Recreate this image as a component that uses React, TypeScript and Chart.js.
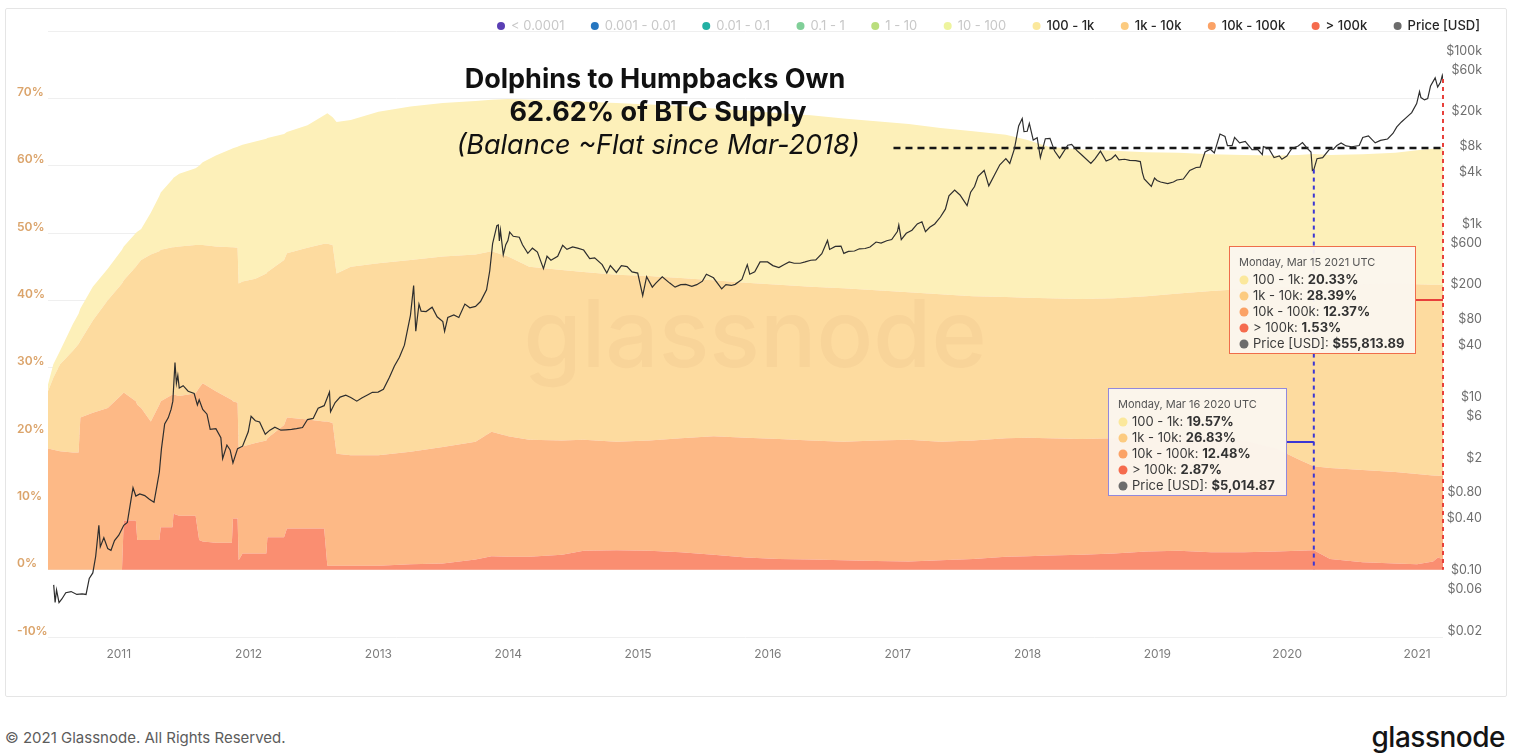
import { useEffect, useRef } from 'react';
import { Chart, registerables } from 'chart.js';

Chart.register(...registerables);

const FONT = 'Inter, "Noto Sans", "DejaVu Sans", sans-serif';

// Share of BTC supply (%) held by each balance cohort, sampled at these dates
const cohortDates = [
  '2010-06-16', '2010-07-01', '2010-07-20', '2010-08-25', '2010-09-10', '2010-09-15', '2010-10-20', '2010-12-01',
  '2011-01-10', '2011-01-15', '2011-02-18', '2011-02-22', '2011-03-05', '2011-04-01', '2011-04-25', '2011-04-29',
  '2011-06-01', '2011-06-04', '2011-06-20', '2011-08-05', '2011-08-15', '2011-08-25', '2011-10-01', '2011-11-15',
  '2011-11-18', '2011-12-01', '2011-12-04', '2011-12-15', '2012-01-20', '2012-02-20', '2012-02-23', '2012-04-10',
  '2012-04-18', '2012-06-15', '2012-08-01', '2012-08-10', '2012-08-25', '2012-09-05', '2012-10-15', '2013-01-01',
  '2013-04-01', '2013-07-01', '2013-10-01', '2013-11-15', '2014-01-01', '2014-03-01', '2014-06-01', '2014-08-01',
  '2014-11-01', '2015-02-01', '2015-05-01', '2015-08-01', '2015-11-01', '2016-02-01', '2016-05-01', '2016-08-01',
  '2016-11-01', '2017-02-01', '2017-05-01', '2017-08-01', '2017-11-01', '2018-01-01', '2018-03-01', '2018-06-01',
  '2018-09-01', '2018-12-01', '2019-03-01', '2019-06-01', '2019-09-01', '2019-12-01', '2020-02-01', '2020-03-16',
  '2020-05-01', '2020-08-01', '2020-11-01', '2021-01-01', '2021-02-15', '2021-03-01', '2021-03-15',
];

const shareOver100k = [
  0, 0, 0, 0, 0, 0, 0, 0, 0, 7.3, 7.3, 4.4, 4.4, 4.4, 4.4, 6.3, 6.3, 8.3, 8.0, 8.0,
  4.4, 4.2, 4.0, 4.0, 7.6, 7.6, 1.4, 2.4, 2.4, 2.4, 4.8, 4.8, 6.1, 6.1, 6.1, 0.6, 0.6, 0.6, 0.6, 0.6,
  0.8, 0.9, 1.5, 2.0, 1.9, 1.9, 2.2, 2.8, 2.9, 2.8, 2.6, 2.2, 1.8, 1.6, 1.5, 1.4, 1.3, 1.2, 1.4, 1.6,
  1.9, 2.0, 2.1, 2.2, 2.4, 2.7, 2.8, 2.6, 2.6, 2.7, 2.8, 2.87, 1.6, 1.1, 0.9, 0.8, 1.2, 1.8, 1.53,
];

const share10kTo100k = [
  18.0, 17.8, 17.6, 17.4, 17.4, 22.6, 23.3, 24.0, 26.0, 19.0, 17.7, 20.1, 19.6, 17.6, 20.1, 18.7, 19.7, 17.7, 17.8, 18.2,
  22.6, 23.5, 22.5, 21.2, 17.4, 17.2, 16.6, 15.9, 16.4, 16.8, 14.7, 16.7, 16.5, 16.2, 15.9, 21.4, 21.2, 16.6, 16.4, 16.4,
  16.7, 17.3, 17.5, 18.5, 17.9, 17.4, 17.0, 16.5, 16.1, 16.4, 16.9, 17.6, 17.8, 17.8, 17.7, 17.6, 17.9, 18.1, 17.6, 17.6,
  17.6, 17.6, 17.4, 17.2, 17.1, 17.0, 17.0, 17.0, 16.6, 15.3, 13.6, 12.48, 13.5, 13.7, 13.6, 13.4, 12.8, 12.15, 12.37,
];

const share1kTo10k = [
  8.5, 10.7, 12.9, 15.1, 16.1, 11.4, 13.7, 16.0, 16.5, 16.7, 20.0, 20.8, 22.0, 24.8, 22.8, 22.5, 21.9, 21.9, 22.2, 22.0,
  21.2, 20.5, 21.5, 22.7, 22.9, 23.0, 24.5, 24.5, 24.4, 24.8, 24.7, 24.5, 24.4, 25.5, 26.4, 26.4, 26.4, 26.8, 28.0, 28.5,
  28.5, 28.3, 27.8, 26.8, 26.7, 25.7, 25.3, 24.9, 24.8, 24.4, 23.8, 23.2, 23.0, 22.9, 22.8, 22.8, 22.3, 21.9, 21.9, 21.4,
  21.0, 20.8, 20.8, 20.8, 20.8, 20.9, 21.2, 21.8, 22.5, 23.9, 25.6, 26.83, 27.2, 27.6, 28.0, 28.2, 28.3, 28.35, 28.39,
];

const share100To1k = [
  1.0, 2.0, 2.0, 4.0, 4.5, 4.8, 5.0, 4.7, 5.0, 5.0, 5.0, 4.9, 4.6, 6.2, 8.2, 8.5, 10.1, 10.3, 10.8, 11.4,
  11.8, 12.3, 13.5, 14.6, 14.7, 15.0, 20.4, 20.3, 20.4, 20.0, 19.9, 18.7, 18.0, 18.2, 19.1, 19.4, 19.0, 22.5, 21.8, 22.5,
  22.8, 22.8, 22.8, 22.5, 23.4, 24.8, 25.2, 25.3, 25.5, 25.5, 25.6, 25.5, 25.6, 25.5, 25.5, 25.2, 25.1, 25.0, 24.7, 24.5,
  24.1, 23.4, 22.5, 22.2, 21.9, 21.4, 20.9, 20.3, 19.9, 19.6, 19.6, 19.57, 19.3, 19.3, 19.4, 19.9, 20.2, 20.3, 20.33,
];

// BTC price in USD
const priceHistory: [string, number][] = [
  ['2010-07-02', 0.08], ['2010-07-06', 0.05], ['2010-07-10', 0.07], ['2010-07-17', 0.05], ['2010-07-25', 0.055],
  ['2010-08-05', 0.065], ['2010-08-20', 0.067], ['2010-09-05', 0.062], ['2010-09-20', 0.063], ['2010-10-01', 0.062],
  ['2010-10-10', 0.095], ['2010-10-20', 0.11], ['2010-10-28', 0.17], ['2010-11-06', 0.39], ['2010-11-10', 0.22],
  ['2010-11-20', 0.28], ['2010-12-01', 0.21], ['2010-12-10', 0.2], ['2010-12-20', 0.26], ['2011-01-01', 0.3],
  ['2011-01-15', 0.39], ['2011-01-25', 0.42], ['2011-02-05', 0.8], ['2011-02-10', 1.06], ['2011-02-18', 0.85],
  ['2011-03-01', 0.9], ['2011-03-15', 0.86], ['2011-03-28', 0.78], ['2011-04-10', 0.72], ['2011-04-18', 1.1],
  ['2011-04-25', 1.6], ['2011-05-01', 3.0], ['2011-05-10', 5.8], ['2011-05-20', 6.8], ['2011-05-28', 8.5],
  ['2011-06-02', 10.6], ['2011-06-08', 29.6], ['2011-06-12', 17], ['2011-06-16', 21], ['2011-06-20', 15],
  ['2011-07-01', 16], ['2011-07-15', 13.8], ['2011-08-01', 13], ['2011-08-10', 9.6], ['2011-08-15', 11],
  ['2011-08-25', 8.5], ['2011-09-06', 7.5], ['2011-09-15', 5], ['2011-10-01', 5.1], ['2011-10-15', 4],
  ['2011-10-20', 2.3], ['2011-11-01', 3.3], ['2011-11-10', 2.9], ['2011-11-18', 2.05], ['2011-12-01', 3.0],
  ['2011-12-15', 3.2], ['2011-12-31', 4.7], ['2012-01-08', 7.1], ['2012-01-20', 6.3], ['2012-02-01', 6.1],
  ['2012-02-17', 4.4], ['2012-03-01', 4.9], ['2012-03-15', 5.3], ['2012-04-01', 4.9], ['2012-04-15', 4.95],
  ['2012-05-01', 5.0], ['2012-05-15', 5.1], ['2012-06-01', 5.25], ['2012-06-15', 6.5], ['2012-07-01', 6.7],
  ['2012-07-15', 8.8], ['2012-08-01', 9.4], ['2012-08-16', 13.5], ['2012-08-19', 8.0], ['2012-09-01', 10.2],
  ['2012-09-15', 11.8], ['2012-10-01', 12.4], ['2012-10-15', 11.7], ['2012-11-01', 10.6], ['2012-11-15', 11.5],
  ['2012-12-01', 12.5], ['2012-12-15', 13.4], ['2012-12-31', 13.5], ['2013-01-15', 14.5], ['2013-02-01', 20],
  ['2013-02-15', 27], ['2013-03-01', 34], ['2013-03-15', 47], ['2013-04-01', 104], ['2013-04-10', 230],
  ['2013-04-16', 68], ['2013-04-25', 140], ['2013-05-01', 116], ['2013-05-15', 115], ['2013-06-01', 129],
  ['2013-06-15', 100], ['2013-07-01', 88], ['2013-07-06', 68], ['2013-07-15', 98], ['2013-08-01', 105],
  ['2013-08-15', 98], ['2013-09-01', 140], ['2013-09-15', 127], ['2013-10-01', 132], ['2013-10-15', 150],
  ['2013-11-01', 205], ['2013-11-10', 340], ['2013-11-18', 700], ['2013-11-30', 1130], ['2013-12-04', 1150],
  ['2013-12-07', 750], ['2013-12-10', 1000], ['2013-12-18', 520], ['2013-12-25', 680], ['2013-12-31', 760],
  ['2014-01-05', 950], ['2014-01-15', 850], ['2014-02-01', 830], ['2014-02-10', 680], ['2014-02-25', 540],
  ['2014-03-10', 620], ['2014-03-24', 560], ['2014-04-10', 360], ['2014-04-20', 500], ['2014-05-01', 450],
  ['2014-05-20', 500], ['2014-06-03', 670], ['2014-06-15', 600], ['2014-07-01', 640], ['2014-07-15', 620],
  ['2014-08-01', 590], ['2014-08-18', 470], ['2014-09-01', 480], ['2014-09-22', 400], ['2014-10-05', 320],
  ['2014-10-15', 390], ['2014-11-01', 325], ['2014-11-15', 390], ['2014-12-01', 380], ['2014-12-15', 330],
  ['2014-12-31', 320], ['2015-01-14', 175], ['2015-01-25', 290], ['2015-02-10', 220], ['2015-02-20', 245],
  ['2015-03-10', 290], ['2015-03-31', 245], ['2015-04-15', 220], ['2015-05-01', 235], ['2015-05-15', 237],
  ['2015-06-01', 225], ['2015-06-15', 235], ['2015-07-01', 258], ['2015-07-12', 310], ['2015-08-01', 282],
  ['2015-08-24', 210], ['2015-09-05', 235], ['2015-09-20', 230], ['2015-10-01', 237], ['2015-10-20', 270],
  ['2015-11-04', 400], ['2015-11-11', 310], ['2015-11-25', 330], ['2015-12-10', 430], ['2015-12-31', 430],
  ['2016-01-15', 390], ['2016-02-01', 370], ['2016-02-15', 400], ['2016-03-01', 430], ['2016-03-15', 415],
  ['2016-04-01', 415], ['2016-04-15', 430], ['2016-05-01', 450], ['2016-05-15', 455], ['2016-06-01', 535],
  ['2016-06-17', 760], ['2016-06-23', 600], ['2016-07-09', 650], ['2016-07-25', 655], ['2016-08-02', 540],
  ['2016-08-15', 570], ['2016-09-01', 575], ['2016-09-15', 610], ['2016-10-01', 615], ['2016-10-15', 640],
  ['2016-11-01', 730], ['2016-11-15', 710], ['2016-12-01', 755], ['2016-12-15', 780], ['2016-12-31', 965],
  ['2017-01-04', 1150], ['2017-01-11', 780], ['2017-01-25', 920], ['2017-02-10', 1000], ['2017-02-25', 1180],
  ['2017-03-10', 1250], ['2017-03-20', 960], ['2017-04-01', 1080], ['2017-04-15', 1180], ['2017-05-01', 1420],
  ['2017-05-15', 1750], ['2017-05-25', 2500], ['2017-06-10', 2900], ['2017-06-25', 2550], ['2017-07-15', 1920],
  ['2017-07-25', 2750], ['2017-08-05', 3200], ['2017-08-15', 4200], ['2017-09-01', 4900], ['2017-09-14', 3250],
  ['2017-09-30', 4350], ['2017-10-15', 5700], ['2017-11-01', 6700], ['2017-11-12', 5900], ['2017-11-25', 8700],
  ['2017-12-07', 16000], ['2017-12-17', 19500], ['2017-12-22', 13800], ['2017-12-31', 13900], ['2018-01-06', 17100],
  ['2018-01-17', 11000], ['2018-01-28', 11700], ['2018-02-06', 6900], ['2018-02-20', 11400], ['2018-03-05', 11500],
  ['2018-03-18', 8200], ['2018-04-01', 6800], ['2018-04-24', 9600], ['2018-05-05', 9800], ['2018-05-20', 8300],
  ['2018-06-01', 7500], ['2018-06-28', 5900], ['2018-07-10', 6700], ['2018-07-25', 8200], ['2018-08-10', 6300],
  ['2018-08-25', 6700], ['2018-09-05', 7400], ['2018-09-15', 6500], ['2018-10-01', 6600], ['2018-10-15', 6400],
  ['2018-11-01', 6350], ['2018-11-14', 6200], ['2018-11-20', 4600], ['2018-11-25', 3900], ['2018-12-15', 3200],
  ['2018-12-24', 4000], ['2018-12-31', 3750], ['2019-01-10', 3600], ['2019-01-30', 3450], ['2019-02-15', 3600],
  ['2019-02-25', 3800], ['2019-03-15', 3900], ['2019-04-02', 4900], ['2019-04-20', 5300], ['2019-05-01', 5350],
  ['2019-05-15', 8000], ['2019-05-30', 8600], ['2019-06-10', 7800], ['2019-06-26', 12900], ['2019-07-10', 12100],
  ['2019-07-17', 9500], ['2019-07-30', 9500], ['2019-08-06', 11800], ['2019-08-20', 10200], ['2019-09-05', 10600],
  ['2019-09-24', 8500], ['2019-10-10', 8600], ['2019-10-23', 7450], ['2019-10-26', 9250], ['2019-11-10', 8800],
  ['2019-11-25', 6900], ['2019-12-10', 7200], ['2019-12-17', 6600], ['2019-12-31', 7200], ['2020-01-14', 8800],
  ['2020-02-01', 9400], ['2020-02-13', 10300], ['2020-02-28', 8700], ['2020-03-08', 8000], ['2020-03-12', 4900],
  ['2020-03-16', 5014.87], ['2020-03-25', 6700], ['2020-04-10', 6900], ['2020-04-30', 8700], ['2020-05-10', 8600],
  ['2020-05-20', 9500], ['2020-06-01', 10200], ['2020-06-15', 9400], ['2020-07-01', 9200], ['2020-07-22', 9500],
  ['2020-08-01', 11800], ['2020-08-17', 12300], ['2020-09-05', 10200], ['2020-09-20', 10900], ['2020-10-10', 11300],
  ['2020-10-25', 13100], ['2020-11-05', 15600], ['2020-11-18', 17800], ['2020-11-30', 19700], ['2020-12-17', 22800],
  ['2020-12-31', 29000], ['2021-01-08', 40000], ['2021-01-12', 34000], ['2021-01-22', 32000], ['2021-01-31', 33100],
  ['2021-02-08', 46500], ['2021-02-21', 57500], ['2021-02-28', 45000], ['2021-03-08', 51000], ['2021-03-13', 61200],
  ['2021-03-15', 55813.89],
];

const yearTicks = [2011, 2012, 2013, 2014, 2015, 2016, 2017, 2018, 2019, 2020, 2021];
const priceTickValues = [100000, 60000, 20000, 8000, 4000, 1000, 600, 200, 80, 40, 10, 6, 2, 0.8, 0.4, 0.1, 0.06, 0.02];
const priceTickLabels = ['$100k', '$60k', '$20k', '$8k', '$4k', '$1k', '$600', '$200', '$80', '$40', '$10', '$6', '$2', '$0.80', '$0.40', '$0.10', '$0.06', '$0.02'];

const legendNames = ['< 0.0001', '0.001 - 0.01', '0.01 - 0.1', '0.1 - 1', '1 - 10', '10 - 100', '100 - 1k', '1k - 10k', '10k - 100k', '> 100k', 'Price [USD]'];
const legendDots = ['#5a3fb4', '#2676c0', '#22b0a3', '#80cf98', '#bade7d', '#eef49e', '#fbe89c', '#fccb80', '#fba266', '#f56b4d', '#6c6c6c'];
const legendActive = [false, false, false, false, false, false, true, true, true, true, true];

const areaFills = {
  over100k: '#fa8e71',
  k10to100k: '#fdb986',
  k1to10k: '#fddb9f',
  h100to1k: '#fdf0b9',
};

const headline = ['Dolphins to Humpbacks Own', '62.62% of BTC Supply', '(Balance ~Flat since Mar-2018)'];
const flatSince = '2016-12-20';

const crosshairs = [
  { date: '2020-03-16', heading: 'Monday, Mar 16 2020 UTC', line: '#3b36d4', frame: '#9288dc', anchorPct: 19 },
  { date: '2021-03-15', heading: 'Monday, Mar 15 2021 UTC', line: '#e8403b', frame: '#ef6d4b', anchorPct: 40 },
];

const PRICE_INDEX = 5;

const toYear = (d: string) => {
  const [y, m, day] = d.split('-').map(Number);
  const t0 = Date.UTC(y, 0, 1);
  const t1 = Date.UTC(y + 1, 0, 1);
  return y + (Date.UTC(y, m - 1, day) - t0) / (t1 - t0);
};

const series = (values: number[]) => cohortDates.map((d, i) => ({ x: toYear(d), y: values[i] }));

const lastIdx = cohortDates.length - 1;
const latestTotal = shareOver100k[lastIdx] + share10kTo100k[lastIdx] + share1kTo10k[lastIdx] + share100To1k[lastIdx];

function drawLegend(chart: any) {
  const ctx = chart.ctx;
  const firstDot = 496;
  const rightEdge = 1475;
  const cy = 18;
  ctx.save();
  ctx.textBaseline = 'middle';
  ctx.textAlign = 'left';
  const fontFor = (k: number) => (legendActive[k] ? `500 13px ${FONT}` : `400 13px ${FONT}`);
  const widths = legendNames.map((n, k) => {
    ctx.font = fontFor(k);
    return ctx.measureText(n).width;
  });
  const total = widths.reduce((a, b) => a + b, 0) + 10 * legendNames.length;
  const gap = (rightEdge - firstDot - total) / (legendNames.length - 1);
  let x = firstDot;
  legendNames.forEach((name, k) => {
    ctx.fillStyle = legendDots[k];
    ctx.beginPath();
    ctx.arc(x, cy, 4, 0, Math.PI * 2);
    ctx.fill();
    ctx.font = fontFor(k);
    ctx.fillStyle = legendActive[k] ? '#262626' : '#c8c8c8';
    ctx.fillText(name, x + 10, cy + 0.5);
    x += 10 + widths[k] + gap;
  });
  ctx.restore();
}

function drawCrosshair(chart: any, c: any) {
  const { ctx, scales } = chart;
  const i = cohortDates.indexOf(c.date);
  const price = (priceHistory.find((r) => r[0] === c.date) as [string, number])[1];
  const x = scales.x.getPixelForValue(toYear(c.date));
  const yTop = scales.y1.getPixelForValue(price);
  const yBase = scales.y.getPixelForValue(0);

  ctx.save();
  ctx.strokeStyle = c.line;
  ctx.lineWidth = 2;
  ctx.setLineDash([4, 4]);
  ctx.beginPath();
  ctx.moveTo(x, yTop);
  ctx.lineTo(x, yBase);
  ctx.stroke();
  ctx.setLineDash([]);

  const rows = [
    { label: legendNames[6], value: share100To1k[i].toFixed(2) + '%', color: legendDots[6] },
    { label: legendNames[7], value: share1kTo10k[i].toFixed(2) + '%', color: legendDots[7] },
    { label: legendNames[8], value: share10kTo100k[i].toFixed(2) + '%', color: legendDots[8] },
    { label: legendNames[9], value: shareOver100k[i].toFixed(2) + '%', color: legendDots[9] },
    {
      label: legendNames[10],
      value: '$' + price.toLocaleString('en-US', { minimumFractionDigits: 2, maximumFractionDigits: 2 }),
      color: legendDots[10],
    },
  ];

  ctx.font = `400 11px ${FONT}`;
  const headW = ctx.measureText(c.heading).width;
  let rowW = 0;
  rows.forEach((r) => {
    ctx.font = `400 13px ${FONT}`;
    const a = ctx.measureText(r.label + ': ').width;
    ctx.font = `700 13px ${FONT}`;
    const b = ctx.measureText(r.value).width;
    rowW = Math.max(rowW, a + b);
  });
  const w = Math.round(Math.max(headW + 22, rowW + 36));
  const h = 108;
  const right = Math.round(x - 27);
  const left = right - w;
  const cy = Math.round(scales.y.getPixelForValue(c.anchorPct));
  const top = cy - h / 2;

  ctx.fillStyle = 'rgba(251, 246, 238, 0.96)';
  ctx.fillRect(left, top, w, h);
  ctx.strokeStyle = c.frame;
  ctx.lineWidth = 1;
  ctx.strokeRect(left + 0.5, top + 0.5, w - 1, h - 1);

  ctx.strokeStyle = c.line;
  ctx.lineWidth = 2;
  ctx.beginPath();
  ctx.moveTo(right, cy);
  ctx.lineTo(x, cy);
  ctx.stroke();

  ctx.textBaseline = 'middle';
  ctx.textAlign = 'left';
  ctx.fillStyle = '#555';
  ctx.font = `400 11px ${FONT}`;
  ctx.fillText(c.heading, left + 10, top + 17);
  rows.forEach((r, k) => {
    const ry = top + 34 + k * 16;
    ctx.fillStyle = r.color;
    ctx.beginPath();
    ctx.arc(left + 15, ry, 4.5, 0, Math.PI * 2);
    ctx.fill();
    ctx.font = `400 13px ${FONT}`;
    ctx.fillStyle = '#3a3a3a';
    const lab = r.label + ': ';
    ctx.fillText(lab, left + 24, ry);
    const lw = ctx.measureText(lab).width;
    ctx.font = `700 13px ${FONT}`;
    ctx.fillStyle = '#333';
    ctx.fillText(r.value, left + 24 + lw, ry);
  });
  ctx.restore();
}

const decorPlugin = {
  id: 'decor',
  beforeDatasetDraw(chart: any, args: any) {
    if (args.index !== PRICE_INDEX) return;
    const { ctx, chartArea: ca } = chart;
    ctx.save();
    ctx.font = `500 94px ${FONT}`;
    ctx.fillStyle = 'rgba(165, 110, 60, 0.06)';
    ctx.textAlign = 'center';
    ctx.textBaseline = 'alphabetic';
    ctx.fillText('glassnode', ca.left + 707, ca.top + 336);
    ctx.restore();
  },
  afterDatasetsDraw(chart: any) {
    const ctx = chart.ctx;
    ctx.save();
    ctx.fillStyle = '#111';
    ctx.textAlign = 'center';
    ctx.textBaseline = 'middle';
    ctx.font = `700 27px ${FONT}`;
    ctx.fillText(headline[0], 650, 72);
    ctx.fillText(headline[1], 653, 105);
    ctx.font = `italic 400 27px ${FONT}`;
    ctx.fillText(headline[2], 653, 138);
    ctx.restore();
    crosshairs.forEach((c) => drawCrosshair(chart, c));
    drawLegend(chart);
  },
};

const area = (label: string, values: number[], color: string, fill: string | number) => ({
  label,
  data: series(values),
  yAxisID: 'y',
  stack: 'supply',
  order: 3,
  fill,
  backgroundColor: color,
  borderColor: 'rgba(0,0,0,0)',
  borderWidth: 0,
  pointRadius: 0,
  tension: 0,
});

export default function App() {
  const canvasRef = useRef<HTMLCanvasElement>(null);

  useEffect(() => {
    const canvas = canvasRef.current;
    if (!canvas) return;
    const chart = new Chart(canvas, {
      type: 'line',
      data: {
        datasets: [
          area('> 100k', shareOver100k, areaFills.over100k, 'origin'),
          area('10k - 100k', share10kTo100k, areaFills.k10to100k, '-1'),
          area('1k - 10k', share1kTo10k, areaFills.k1to10k, '-1'),
          area('100 - 1k', share100To1k, areaFills.h100to1k, '-1'),
          {
            label: 'Flat since Mar-2018',
            data: [
              { x: toYear(flatSince), y: latestTotal },
              { x: toYear(cohortDates[lastIdx]), y: latestTotal },
            ],
            yAxisID: 'y',
            stack: 'flat',
            order: 2,
            fill: false,
            borderColor: '#161616',
            borderWidth: 2.4,
            borderDash: [7, 5],
            pointRadius: 0,
          },
          {
            label: 'Price [USD]',
            data: priceHistory.map(([d, p]) => ({ x: toYear(d), y: p })),
            yAxisID: 'y1',
            order: 1,
            fill: false,
            borderColor: '#2e2e2e',
            borderWidth: 1.2,
            pointRadius: 0,
            tension: 0,
          },
        ],
      } as any,
      options: {
        responsive: false,
        animation: false,
        events: [],
        layout: { padding: { top: 23, left: 12, right: 25, bottom: 0 } },
        plugins: {
          legend: { display: false },
          tooltip: { enabled: false },
          title: { display: false },
        },
        scales: {
          x: {
            type: 'linear',
            min: toYear(cohortDates[0]),
            max: toYear(cohortDates[lastIdx]),
            grid: { display: false, drawTicks: false },
            border: { display: false },
            afterBuildTicks: (s: any) => {
              s.ticks = yearTicks.map((v) => ({ value: v }));
            },
            afterFit: (s: any) => {
              s.height = 60;
            },
            ticks: {
              autoSkip: false,
              maxRotation: 0,
              padding: 10,
              color: '#7d7d7d',
              font: { family: FONT, size: 12 },
              callback: (v: any) => String(v),
            },
          },
          y: {
            type: 'linear',
            position: 'left',
            stacked: true,
            min: -10,
            max: 80,
            grid: { color: '#efefef', drawTicks: false, lineWidth: 1 },
            border: { display: false },
            afterFit: (s: any) => {
              s.width = 31;
            },
            ticks: {
              stepSize: 10,
              crossAlign: 'far',
              labelOffset: -6,
              color: '#dba46b',
              font: { family: FONT, size: 12, weight: '600' },
              callback: (v: any) => (v >= 80 ? '' : v + '%'),
            },
          },
          y1: {
            type: 'logarithmic',
            position: 'right',
            min: 0.02,
            max: 200000,
            grid: { display: false, drawTicks: false },
            border: { display: false },
            afterBuildTicks: (s: any) => {
              s.ticks = priceTickValues.map((v) => ({ value: v }));
            },
            afterFit: (s: any) => {
              s.width = 39;
            },
            ticks: {
              autoSkip: false,
              crossAlign: 'far',
              padding: 4,
              labelOffset: -6,
              color: '#6e6e6e',
              font: { family: FONT, size: 12.5 },
              callback: (v: any) => {
                const k = priceTickValues.indexOf(Number(v));
                return k >= 0 ? priceTickLabels[k] : '';
              },
            },
          },
        },
      } as any,
      plugins: [decorPlugin],
    });
    return () => chart.destroy();
  }, []);

  return (
    <div style={{ position: 'absolute', left: 0, top: 0, width: 1517, height: 755, background: '#fff', fontFamily: FONT }}>
      <canvas
        ref={canvasRef}
        width={1502}
        height={689}
        style={{ position: 'absolute', left: 5, top: 8, width: 1502, height: 689, display: 'block' }}
      />
      <div
        style={{
          position: 'absolute', left: 5, top: 8, width: 1502, height: 689,
          border: '1px solid #e5e5e5', boxSizing: 'border-box', borderRadius: 2, pointerEvents: 'none',
        }}
      />
      <div style={{ position: 'absolute', left: 5, top: 728, fontSize: 15, color: '#5c5c5c', whiteSpace: 'nowrap' }}>
        © 2021 Glassnode. All Rights Reserved.
      </div>
      <div style={{ position: 'absolute', right: 12, top: 720, fontSize: 28, fontWeight: 500, color: '#141414', letterSpacing: -0.5 }}>
        glassnode
      </div>
    </div>
  );
}
